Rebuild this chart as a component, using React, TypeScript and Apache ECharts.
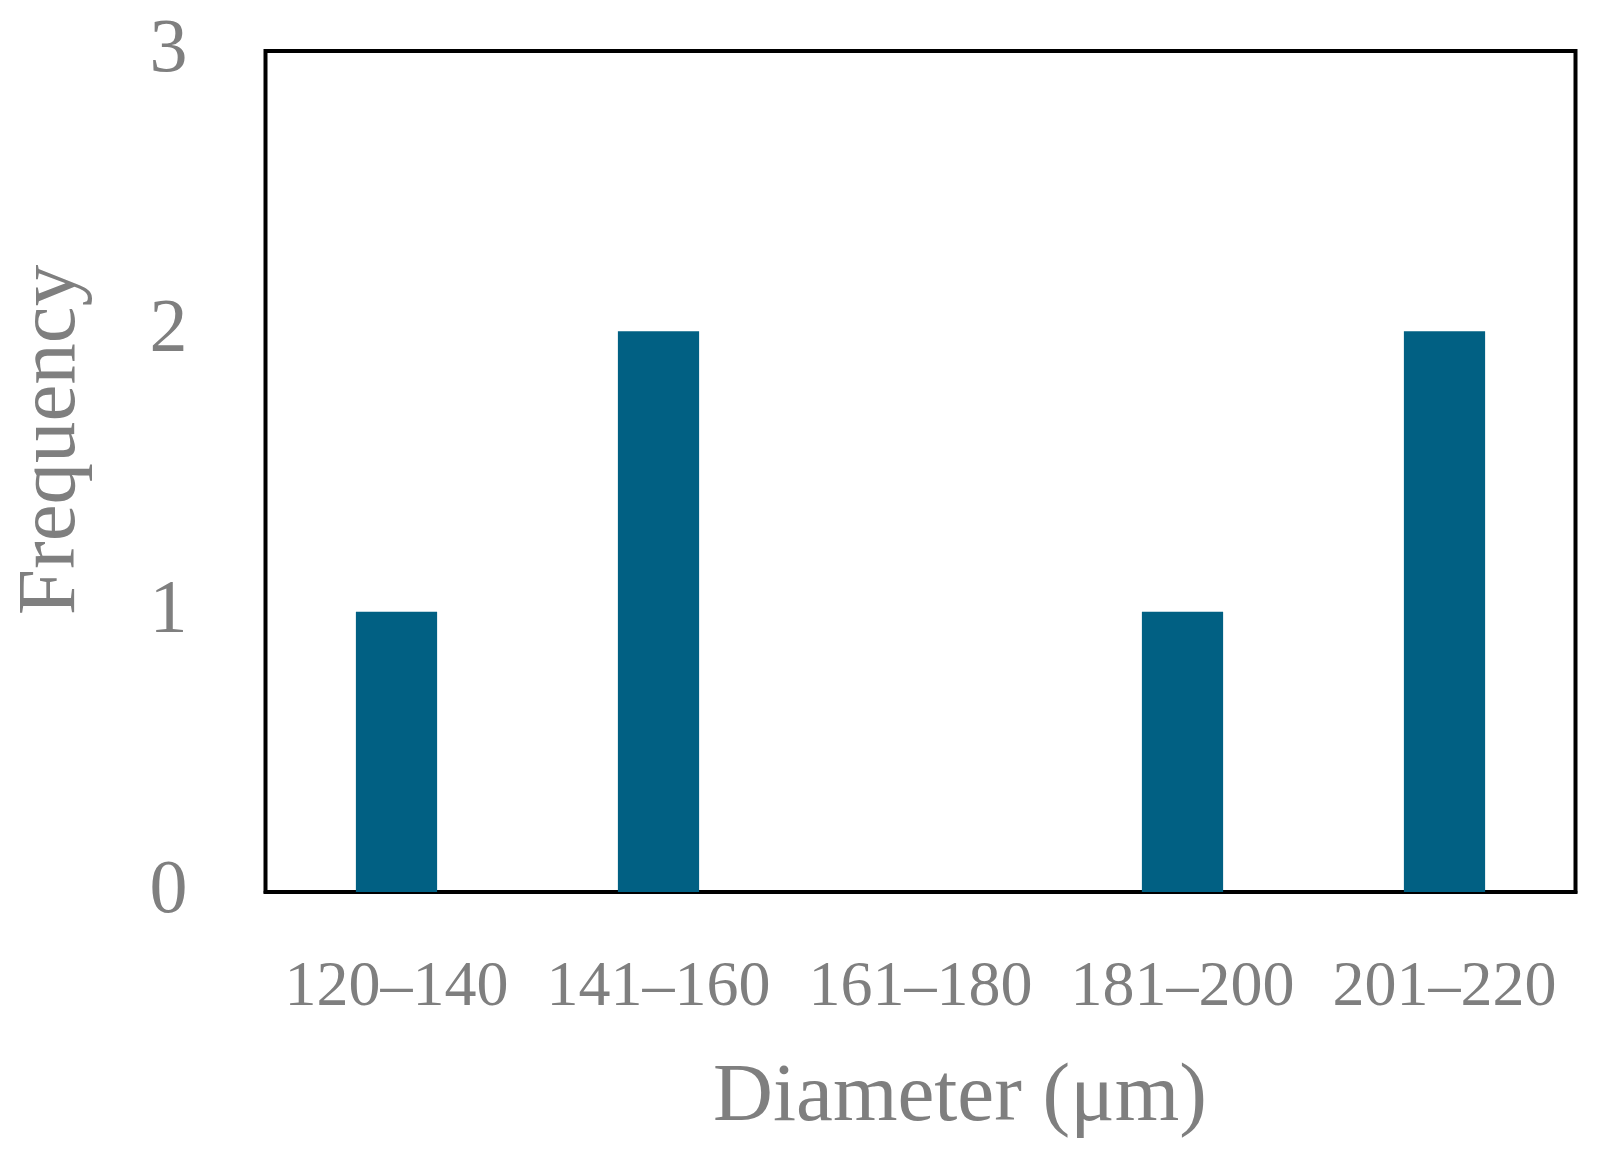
import React, { useEffect, useRef } from "react";
import * as echarts from "echarts";

const categories = ["120–140", "141–160", "161–180", "181–200", "201–220"];
const frequency = [1, 2, 0, 1, 2];
const yTicks = [0, 1, 2, 3];
const xTitle = "Diameter (μm)";
const yTitle = "Frequency";

const FONT = "'Liberation Serif', 'Times New Roman', serif";
const GRAY = "#7f7f7f";
const BAR = "#016083";

export default function App() {
  const ref = useRef<HTMLDivElement>(null);
  useEffect(() => {
    if (!ref.current) return;
    const chart = echarts.init(ref.current, undefined, { renderer: "svg" });
    chart.setOption({
      animation: false,
      backgroundColor: "#ffffff",
      grid: {
        left: 265.5,
        right: 25.5,
        top: 51,
        bottom: 265,
        show: true,
        borderColor: "#000000",
        borderWidth: 4,
        backgroundColor: "transparent",
      },
      xAxis: {
        type: "category",
        data: categories,
        axisLine: { show: true, lineStyle: { color: "#000000", width: 4 } },
        axisTick: { show: false },
        splitLine: { show: false },
        axisLabel: {
          color: GRAY,
          fontFamily: FONT,
          fontSize: 64,
          margin: 91,
          verticalAlign: "middle",
          interval: 0,
        },
      },
      yAxis: {
        type: "value",
        min: yTicks[0],
        max: yTicks[yTicks.length - 1],
        interval: 1,
        axisLine: { show: false },
        axisTick: { show: false },
        splitLine: { show: false },
        axisLabel: {
          color: GRAY,
          fontFamily: FONT,
          fontSize: 76,
          margin: 78,
          verticalAlign: "bottom",
          lineHeight: 12,
        },
      },
      series: [
        {
          type: "bar",
          data: frequency,
          barWidth: "31%",
          itemStyle: { color: BAR },
        },
      ],
      graphic: [
        {
          type: "text",
          x: 960,
          y: 1092,
          style: {
            text: xTitle,
            fill: GRAY,
            font: `83px ${FONT}`,
            align: "center",
            verticalAlign: "middle",
          },
        },
        {
          type: "text",
          x: 46,
          y: 440,
          rotation: Math.PI / 2,
          style: {
            text: yTitle,
            fill: GRAY,
            font: `83px ${FONT}`,
            align: "center",
            verticalAlign: "middle",
          },
        },
      ],
    });
    return () => chart.dispose();
  }, []);
  return (
    <div
      ref={ref}
      style={{ position: "fixed", left: 0, top: 0, width: 1601, height: 1157, background: "#fff" }}
    />
  );
}
